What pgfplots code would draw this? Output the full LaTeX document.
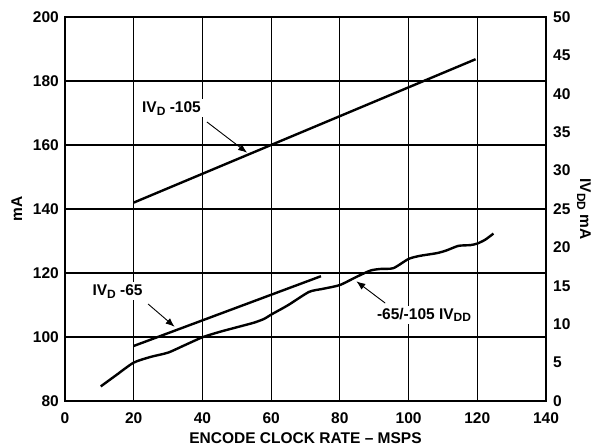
\documentclass[border=0pt]{standalone}
\usepackage{fontspec}
\setmainfont{Liberation Sans}
\usepackage{pgfplots}
\pgfplotsset{compat=1.18}
\usetikzlibrary{arrows.meta}
\newcommand{\fs}{\bfseries\fontsize{15.5}{16}\selectfont}
\newcommand{\sub}[1]{\raisebox{-0.35ex}{\fontsize{12}{12}\selectfont #1}}
\begin{document}
\begin{tikzpicture}[font=\fs]
\pgfplotsset{every axis/.append style={
  scale only axis, width=481pt, height=384pt,
  xmin=0, xmax=140,
  major tick length=0pt,
  tick label style={font=\fs, inner sep=0pt},
  label style={font=\fs},
  axis line style={line width=2pt},
}}
\begin{axis}[
  name=main,
  ymin=80, ymax=200,
  xtick={0,20,...,140}, ytick={80,100,...,200},
  xticklabels={\textbf{0},\textbf{20},\textbf{40},\textbf{60},\textbf{80},\textbf{100},\textbf{120},\textbf{140}},
  yticklabels={\textbf{80},\textbf{100},\textbf{120},\textbf{140},\textbf{160},\textbf{180},\textbf{200}},
  xtick pos=bottom, ytick pos=left,
  yticklabel style={anchor=east, xshift=-6pt},
  xticklabel style={anchor=north, yshift=-11pt},
  grid=major, major grid style={black, line width=1.1pt},
  xlabel={ENCODE CLOCK RATE -- MSPS},
  ylabel={mA},
  xlabel style={at={(axis description cs:0.5,0)}, anchor=base, yshift=-42pt},
  ylabel style={at={(axis description cs:-0.1,0.5)}, anchor=center},
  clip=false,
]
\addplot[black, line width=2.4pt] coordinates {(20,142) (119.5,186.8)};
\addplot[black, line width=2.4pt] coordinates {(20,97.2) (74.5,119)};
\node[fill=white, inner sep=2pt] at (axis cs:31,171.5) {IV\sub{D} -105};
\draw[-{Latex[length=9pt,width=7pt]}, line width=0.9pt] (axis cs:41.3,167.2) -- (axis cs:53,157.6);
\node[fill=white, inner sep=2pt] at (axis cs:15.3,114.3) {IV\sub{D} -65};
\draw[-{Latex[length=9pt,width=7pt]}, line width=0.9pt] (axis cs:24.2,110.3) -- (axis cs:31.9,103.2);
\node[fill=white, inner sep=2pt] at (axis cs:104.5,106.9) {-65/-105 IV\sub{DD}};
\draw[-{Latex[length=9pt,width=7pt]}, line width=0.9pt] (axis cs:93.2,110.6) -- (axis cs:84.8,117.4);
\end{axis}
\begin{axis}[
  ymin=0, ymax=50,
  axis x line=none, axis y line*=right,
  ytick={0,5,...,50},
  yticklabels={\textbf{0},\textbf{5},\textbf{10},\textbf{15},\textbf{20},\textbf{25},\textbf{30},\textbf{35},\textbf{40},\textbf{45},\textbf{50}},
  yticklabel style={anchor=west, xshift=7pt},
  ylabel={IV\sub{DD} mA},
  ylabel style={at={(axis description cs:1.079,0.5)}, anchor=center, rotate=180},
]
\addplot[black, line width=2.4pt, smooth, tension=0.4] coordinates {
(10.4,1.9) (15,3.4) (20,5.0) (25,5.75) (30,6.3) (35,7.3) (40,8.3) (45,9.0) (50,9.6) (55,10.2)
(58,10.7) (60,11.25) (65,12.5) (71,14.2) (75,14.6) (80,15.1) (85,16.2) (89,17.0) (92,17.2)
(95.6,17.3) (100,18.5) (103.3,18.9) (108.2,19.25) (111,19.6) (114.5,20.2) (118,20.3) (120,20.5)
(122.3,21.0) (124.7,21.8)};
\end{axis}
\pgfresetboundingbox
\path[use as bounding box] ([xshift=-65pt,yshift=-46pt]main.south west) rectangle ([xshift=47pt,yshift=17pt]main.north east);
\end{tikzpicture}
\end{document}
